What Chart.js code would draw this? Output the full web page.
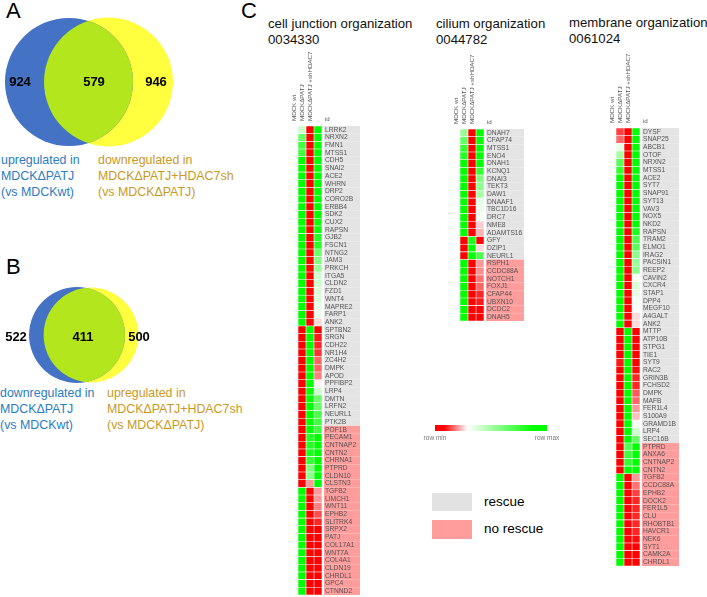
<!DOCTYPE html>
<html>
<head>
<meta charset="utf-8">
<title>Venn diagrams and heatmaps</title>
<script src="https://cdn.jsdelivr.net/npm/chart.js@4"></script>
<style>
  html, body { margin: 0; padding: 0; background: #fff; }
  body { width: 707px; height: 597px; position: relative; overflow: hidden; font-family: "Liberation Sans", Arial, sans-serif; }
  canvas { position: absolute; }
  .t { position: absolute; white-space: nowrap; color: #000; }
  .panel { font-size: 22px; line-height: 22px; }
  .title { font-size: 13.2px; line-height: 15.5px; color: #111; }
  .cap { font-size: 12.4px; line-height: 16px; }
  .blue { color: #2b7cc4; }
  .gold { color: #c99a1f; }
  .box { position: absolute; left: 432px; width: 40px; height: 18px; }
</style>
</head>
<body>

<div class="t panel" style="left:6px;top:0px">A</div>
<div class="t panel" style="left:6px;top:256px">B</div>
<div class="t panel" style="left:241px;top:0px">C</div>

<div class="t cap blue" style="left:1px;top:152px">upregulated in<br>MDCKΔPATJ<br>(vs MDCKwt)</div>
<div class="t cap gold" style="left:98px;top:152px">downregulated in<br>MDCKΔPATJ+HDAC7sh<br>(vs MDCKΔPATJ)</div>
<div class="t cap blue" style="left:0px;top:385px">downregulated in<br>MDCKΔPATJ<br>(vs MDCKwt)</div>
<div class="t cap gold" style="left:107px;top:385px">upregulated in<br>MDCKΔPATJ+HDAC7sh<br>(vs MDCKΔPATJ)</div>

<div class="t title" style="left:268px;top:16px">cell junction organization<br>0034330</div>
<div class="t title" style="left:436px;top:16px">cilium organization<br>0044782</div>
<div class="t title" style="left:569px;top:15px">membrane organization<br>0061024</div>

<div class="box" style="top:493px;background:#e2e2e2"></div>
<div class="box" style="top:520px;height:19px;background:#ff9c9c"></div>
<div class="t" style="left:484px;top:494px;font-size:13.5px">rescue</div>
<div class="t" style="left:484px;top:521px;font-size:13.5px">no rescue</div>

<canvas id="vennA" style="left:0;top:0"></canvas>
<canvas id="vennB" style="left:0;top:270px"></canvas>
<canvas id="heatJunction" style="left:290px;top:50px"></canvas>
<canvas id="heatCilium" style="left:452px;top:53px"></canvas>
<canvas id="heatMembrane" style="left:608px;top:52px"></canvas>
<canvas id="colorBar" style="left:415px;top:420px"></canvas>

<script>
// venn counts: only left, shared, only right
const vennACounts = [924, 579, 946];
const vennBCounts = [522, 411, 500];

// heatmap columns
const columnLabels = ['id', 'MDCK wt', 'MDCKΔPATJ', 'MDCKΔPATJ +shHDAC7'];
const colorBarLabels = ['row min', 'row max'];

// cell junction organization, 0034330
const junctionGenes = ['LRRK2','NRXN2','FMN1','MTSS1','CDH5','SNAI2','ACE2','WHRN','DRP2','CORO2B','ERBB4','SDK2','CUX2','RAPSN','GJB2','FSCN1','NTNG2','JAM3','PRKCH','ITGA5','CLDN2','FZD1','WNT4','MAPRE2','FARP1','ANK2','SPTBN2','SRGN','CDH22','NR1H4','ZC4H2','DMPK','APOD','PPFIBP2','LRP4','DMTN','LRFN2','NEURL1','PTK2B','POF1B','PECAM1','CNTNAP2','CNTN2','CHRNA1','PTPRD','CLDN10','CLSTN3','TGFB2','LIMCH1','WNT11','EPHB2','SLITRK4','SRPX2','PATJ','COL17A1','WNT7A','COL4A1','CLDN19','CHRDL1','GPC4','CTNND2'];
const junctionWt = [0.2,0.6,0.75,0.75,1,1,1,1,1,1,1,1,1,1,1,1,1,1,1,1,1,1,1,1,1,1,-1,-1,-1,-1,-1,-1,-1,-1,-1,-1,-1,-1,-1,-1,-1,-1,-1,-1,-1,-1,-1,1,1,1,1,1,1,1,1,1,1,1,1,1,1];
const junctionPatj = [-1,-1,-1,-1,-1,-1,-1,-1,-1,-1,-1,-1,-1,-1,-1,-1,-1,-1,-1,-1,-1,-1,-1,-1,-1,-1,1,1,1,1,1,1,1,1,1,1,1,1,1,1,0.85,0.85,0.9,0.8,0.5,0.45,-0.4,-1,-1,-1,-1,-1,-1,-1,-1,-1,-1,-1,-1,-1,-1];
const junctionSh = [1,1,1,1,1,1,1,1,1,1,1,1,0.95,0.95,0.85,0.85,0.6,0.5,0.4,0.2,0.2,0.15,0.15,0.1,0.1,-0.15,-1,-0.9,-0.85,-0.8,-0.6,-0.6,-0.5,-0.05,0.2,0.6,0.6,0.7,0.75,0.75,1,1,1,1,1,1,1,-0.4,-0.4,-0.5,-0.7,-0.85,-1,-1,-1,-1,-1,-1,-1,-1,-1];
const junctionRescued = 39; // first rows are "rescue", the rest "no rescue"

// cilium organization, 0044782
const ciliumGenes = ['DNAH7','CFAP74','MTSS1','ENO4','DNAH1','KCNQ1','DNAI3','TEKT3','DAW1','DNAAF1','TBC1D16','DRC7','NME8','ADAMTS16','GFY','DZIP1','NEURL1','RSPH1','CCDC88A','NOTCH1','FOXJ1','CFAP44','UBXN10','DCDC2','DNAH5'];
const ciliumWt = [0.4,0.6,0.8,0.85,1,1,1,1,1,1,1,1,1,1,-1,-1,-1,1,1,1,1,1,1,1,1];
const ciliumPatj = [-1,-1,-1,-1,-1,-1,-1,-1,-1,-1,-1,-1,-1,-1,0.9,1,1,-1,-1,-1,-1,-1,-1,-1,-1];
const ciliumSh = [1,1,1,1,1,0.8,0.5,0.45,0.35,0.1,0.08,0.05,-0.2,-0.3,-1,-0.15,0.7,-0.4,-0.45,-0.55,-0.6,-0.85,-0.9,-1,-1];
const ciliumRescued = 17;

// membrane organization, 0061024
const membraneGenes = ['DYSF','SNAP25','ABCB1','OTOF','NRXN2','MTSS1','ACE2','SYT7','SNAP91','SYT13','VAV3','NOX5','NKD2','RAPSN','TRAM2','ELMO1','IRAG2','PACSIN1','REEP2','CAVIN2','CXCR4','STAP1','DPP4','MEGF10','A4GALT','ANK2','MTTP','ATP10B','STPG1','TIE1','SYT9','RAC2','GRIN3B','FCHSD2','DMPK','MAFB','FER1L4','S100A9','GRAMD1B','LRP4','SEC16B','PTPRD','ANXA6','CNTNAP2','CNTN2','TGFB2','CCDC88A','EPHB2','DOCK2','FER1L5','CLU','RHOBTB1','HAVCR1','NEK6','SYT1','CAMK2A','CHRDL1'];
const membraneWt = [-0.75,-0.6,0.1,0.35,0.65,0.8,1,1,1,1,1,1,1,1,1,1,1,1,1,1,1,1,1,1,1,1,-1,-1,-1,-1,-0.9,-1,-1,-1,-1,-1,-1,-1,-1,-1,-1,-1,-1,-1,-1,1,1,1,1,1,1,1,1,1,1,1,1];
const membranePatj = [-1,-1,-1,-1,-1,-1,-1,-1,-1,-1,-1,-1,-1,-1,-1,-1,-1,-1,-1,-1,-1,-1,-1,-1,-1,-1,1,1,1,1,1,1,1,1,1,1,1,1,1,1,1,0.65,0.75,0.8,1,-1,-1,-1,-1,-1,-1,-1,-1,-1,-1,-1,-1];
const membraneSh = [1,1,1,1,1,1,1,1,1,1,1,1,1,0.9,0.7,0.65,0.45,0.4,0.45,0.02,0.15,0.1,0.05,0,-0.15,-0.15,-1,-1,-1,-1,-1,-0.95,-0.85,-0.85,-0.65,-0.6,-0.4,-0.25,0.02,0.2,0.6,1,1,1,1,-0.4,-0.55,-0.75,-0.85,-0.85,-0.85,-0.85,-0.85,-0.95,-1,-1,-1];
const membraneRescued = 41;

Chart.defaults.font.family = '"Liberation Sans", Arial, sans-serif';
Chart.defaults.animation = false;
Chart.defaults.responsive = false;
Chart.defaults.plugins.legend.display = false;
Chart.defaults.plugins.tooltip.enabled = false;

const ROW_H = 7.68;
const HEADER_H = 76;
const CELL_W = 8;

function sized(id, w, h) {
    const c = document.getElementById(id);
    c.width = w;
    c.height = h;
    return c;
}

// -1 red, 0 white, 1 green
function cellColor(v) {
    const k = Math.round(255 * (1 - Math.abs(v)));
    return v < 0 ? `rgb(255,${k},${k})` : `rgb(${k},255,${k})`;
}

// shared part of the two circles plus the three counts
const vennOverlay = {
    id: 'vennOverlay',
    afterDatasetsDraw(chart, args, opts) {
        const { ctx } = chart;
        const a = chart.getDatasetMeta(0).data[0];
        const b = chart.getDatasetMeta(1).data[0];
        ctx.save();
        ctx.beginPath();
        ctx.arc(a.x, a.y, a.options.radius, 0, Math.PI * 2);
        ctx.clip();
        ctx.beginPath();
        ctx.arc(b.x, b.y, b.options.radius, 0, Math.PI * 2);
        ctx.fillStyle = '#b4e61e';
        ctx.fill();
        ctx.restore();
        ctx.save();
        ctx.fillStyle = '#000';
        ctx.font = 'bold 13px "Liberation Sans", Arial, sans-serif';
        ctx.textAlign = 'center';
        ctx.textBaseline = 'middle';
        opts.counts.forEach((n, i) => {
            ctx.fillText(n, chart.scales.x.getPixelForValue(opts.labelX[i]), chart.scales.y.getPixelForValue(opts.labelY));
        });
        ctx.restore();
    },
};

function drawVenn(id, w, h, counts, layout) {
    const leftSize = counts[0] + counts[1];
    const rightSize = counts[1] + counts[2];
    new Chart(sized(id, w, h), {
        type: 'bubble',
        plugins: [vennOverlay],
        data: {
            datasets: [
                { data: [{ x: layout.leftX, y: layout.y, r: layout.k * Math.sqrt(leftSize) }], backgroundColor: '#4472c4', borderWidth: 0 },
                { data: [{ x: layout.rightX, y: layout.y, r: layout.k * Math.sqrt(rightSize) }], backgroundColor: '#ffff40', borderWidth: 0 },
            ],
        },
        options: {
            layout: { padding: 0, autoPadding: false },
            scales: {
                x: { display: false, min: 0, max: w },
                y: { display: false, min: 0, max: h, reverse: true },
            },
            plugins: {
                vennOverlay: { counts, labelX: layout.labelX, labelY: layout.labelY },
            },
        },
    });
}

drawVenn('vennA', 240, 150, vennACounts, { k: 1.651, leftX: 69, rightX: 108.5, y: 82, labelX: [20, 94, 156], labelY: 82 });
drawVenn('vennB', 240, 115, vennBCounts, { k: 1.57, leftX: 77, rightX: 91, y: 65, labelX: [16, 83, 139], labelY: 67 });

// grey/pink row bands behind the gene names, upright "id" above them
const rowBands = {
    id: 'rowBands',
    beforeDraw(chart, args, opts) {
        const { ctx, chartArea, scales } = chart;
        const rowH = scales.y.getPixelForValue(1) - scales.y.getPixelForValue(0);
        ctx.save();
        opts.genes.forEach((g, i) => {
            const yc = scales.y.getPixelForValue(i);
            ctx.fillStyle = i < opts.rescued ? '#e4e4e4' : '#ff9c9c';
            ctx.fillRect(chartArea.right + 2, yc - rowH / 2, chart.width - chartArea.right - 2, rowH);
        });
        ctx.fillStyle = '#555';
        ctx.font = '6.2px "Liberation Sans", Arial, sans-serif';
        ctx.textBaseline = 'bottom';
        ctx.fillText(columnLabels[0], chartArea.right + 3, chartArea.top - 4);
        ctx.restore();
    },
};

function drawHeatmap(id, w, genes, wt, patj, sh, rescued) {
    const span = genes.map(() => 1);
    const column = (values) => ({
        data: span,
        backgroundColor: values.map(cellColor),
        borderColor: 'rgba(255,255,255,0.6)',
        borderWidth: 0.6,
        borderSkipped: false,
        barPercentage: 1,
        categoryPercentage: 1,
    });
    new Chart(sized(id, w, Math.ceil(HEADER_H + genes.length * ROW_H)), {
        type: 'bar',
        plugins: [rowBands],
        data: { labels: genes, datasets: [column(wt), column(patj), column(sh)] },
        options: {
            indexAxis: 'y',
            layout: { padding: 0, autoPadding: false },
            scales: {
                x: {
                    position: 'top',
                    stacked: true,
                    min: -1,
                    max: 3,
                    grid: { display: false, drawTicks: false },
                    border: { display: false },
                    afterBuildTicks(scale) { scale.ticks = [-0.4, 0.5, 1.5, 2.5].map((value) => ({ value })); },
                    afterFit(scale) {
                        scale.height = HEADER_H;
                        scale.paddingLeft = 0;
                        scale.paddingRight = 0;
                    },
                    ticks: {
                        autoSkip: false,
                        minRotation: 90,
                        maxRotation: 90,
                        padding: 5,
                        color: '#555',
                        font: { size: 6.2 },
                        callback: (v, i) => columnLabels[i],
                    },
                },
                y: {
                    position: 'right',
                    stacked: true,
                    grid: { display: false, drawTicks: false },
                    border: { display: false },
                    afterFit(scale) {
                        scale.width = w - 4 * CELL_W;
                        scale.paddingTop = 0;
                        scale.paddingBottom = 0;
                    },
                    ticks: { autoSkip: false, padding: 3, color: '#555', font: { size: 6.7 } },
                },
            },
            plugins: { rowBands: { genes, rescued } },
        },
    });
}

drawHeatmap('heatJunction', 70, junctionGenes, junctionWt, junctionPatj, junctionSh, junctionRescued);
drawHeatmap('heatCilium', 72, ciliumGenes, ciliumWt, ciliumPatj, ciliumSh, ciliumRescued);
drawHeatmap('heatMembrane', 71, membraneGenes, membraneWt, membranePatj, membraneSh, membraneRescued);

// color scale bar
new Chart(sized('colorBar', 152, 24), {
    type: 'bar',
    data: {
        labels: [''],
        datasets: [{
            data: [[-1, 1]],
            barPercentage: 1,
            categoryPercentage: 1,
            backgroundColor(ctx) {
                const area = ctx.chart.chartArea;
                if (!area) return '#fff';
                const g = ctx.chart.ctx.createLinearGradient(area.left, 0, area.right, 0);
                g.addColorStop(0, '#ff0000');
                g.addColorStop(0.08, '#ff0000');
                g.addColorStop(0.29, '#ffffff');
                g.addColorStop(0.88, '#00ff00');
                g.addColorStop(1, '#00ff00');
                return g;
            },
        }],
    },
    options: {
        indexAxis: 'y',
        layout: { padding: { left: 20, right: 20, top: 5 } },
        scales: {
            y: { display: false },
            x: {
                min: -1,
                max: 1,
                grid: { display: false, drawTicks: false },
                border: { display: false },
                afterBuildTicks(scale) { scale.ticks = [{ value: -1 }, { value: 1 }]; },
                afterFit(scale) { scale.height = 13; },
                ticks: { autoSkip: false, maxRotation: 0, padding: 3, color: '#777', font: { size: 6.5 }, callback: (v, i) => colorBarLabels[i] },
            },
        },
    },
});
</script>
</body>
</html>
